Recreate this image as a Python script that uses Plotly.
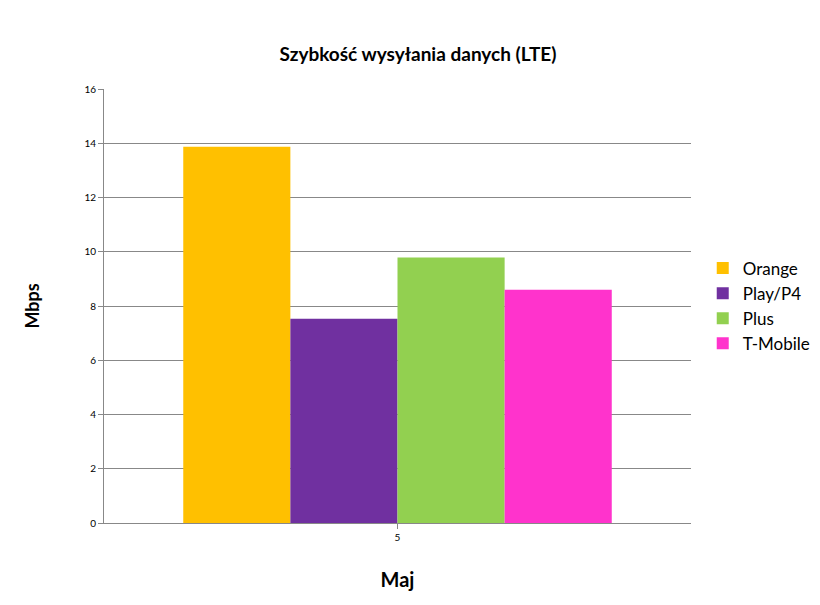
import plotly.graph_objects as go

# Upload speed per operator in May
month = ["5"]
operators = ["Orange", "Play/P4", "Plus", "T-Mobile"]
speeds = [13.87, 7.53, 9.79, 8.6]
colors = ["#FFC000", "#7030A0", "#92D050", "#FF33CC"]

fig = go.Figure()
for name, val, col in zip(operators, speeds, colors):
    fig.add_trace(go.Bar(x=month, y=[val], name=name, marker_color=col, marker_line_width=0))

fig.update_layout(
    width=820, height=605,
    plot_bgcolor="white", paper_bgcolor="white",
    font=dict(family="Lato, Open Sans, sans-serif", color="black"),
    title=dict(text="<b>Szybkość wysyłania danych (LTE)</b>", x=0.5, xanchor="center",
               y=0.935, font=dict(size=19)),
    barmode="group", bargap=0.27, bargroupgap=0,
    margin=dict(l=96, r=131, t=81, b=90),
    legend=dict(x=1.02, y=0.5, yanchor="middle", font=dict(size=17),
                itemwidth=30, tracegroupgap=4),
    xaxis=dict(title=dict(text="<b>Maj</b>", font=dict(size=20), standoff=30),
               showline=True, linecolor="#888", ticks="outside", ticklen=5,
               tickcolor="#888", tickfont=dict(size=10)),
    yaxis=dict(title=dict(text="<b>Mbps</b>", font=dict(size=18), standoff=40),
               range=[0, 16], dtick=2, showgrid=True, gridcolor="#888",
               showline=True, linecolor="#888", ticks="outside", ticklen=5,
               tickcolor="#888", tickfont=dict(size=10)),
)

fig.write_html("out.html")
